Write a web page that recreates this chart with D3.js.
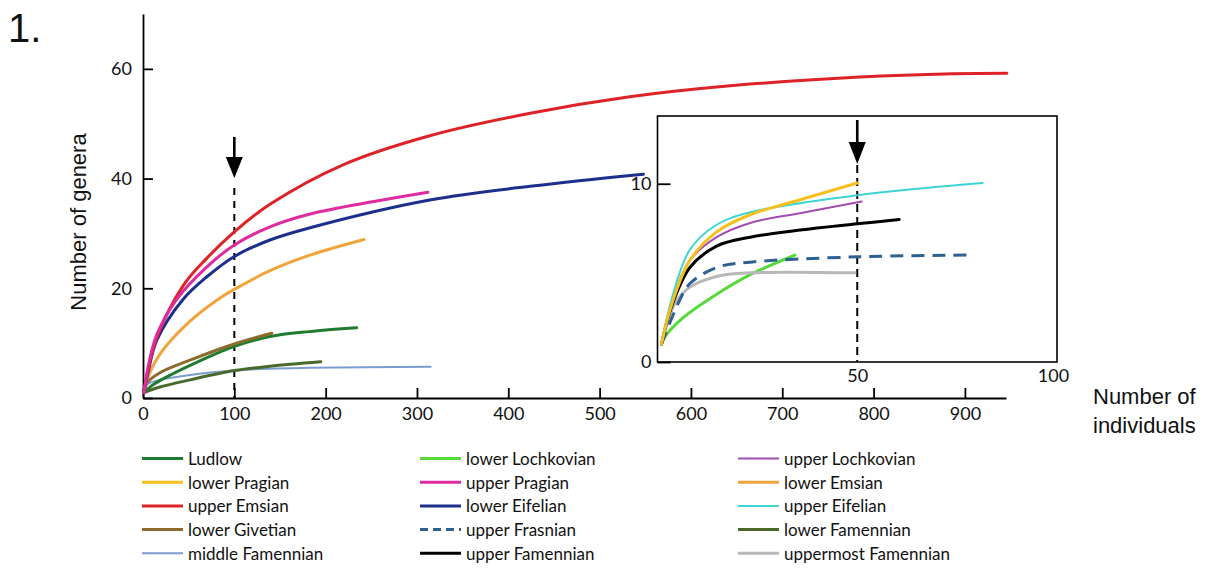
<!DOCTYPE html>
<html>
<head>
<meta charset="utf-8">
<script src="https://cdn.jsdelivr.net/npm/d3@7"></script>
<style>
  html, body { margin: 0; padding: 0; background: #fff; }
  svg { display: block; }
</style>
</head>
<body>
<svg id="chart" width="1209" height="570"></svg>
<script>
// ---------------- DATA ----------------
// Main panel: [number of individuals, number of genera]
const ludlow          = [[1,1],[10,2.3],[30,4.2],[60,6.6],[100,9.4],[139,11.2],[182,12.1],[234,12.8]];
const upperPragian    = [[1,1],[6,6],[15,11.5],[36.5,17.9],[70,23.9],[100,27.9],[139,31.2],[182,33.5],[256,35.9],[312,37.5]];
const lowerEmsian     = [[1,1],[5,3.6],[18.6,8],[51.5,14],[84,18.2],[100,19.8],[139,23.2],[182,26],[242,28.9]];
const upperEmsian     = [[1,1],[6,5.5],[15,11],[44,20.5],[70,25.5],[100,30.3],[139,35.3],[219,42.5],[314,47.8],[424,51.9],[533,54.9],[643,56.9],[785,58.5],[887,59.1],[946,59.2]];
const lowerEifelian   = [[1,1],[6,5],[15,10.5],[44,18],[70,22.1],[100,25.8],[139,28.8],[182,31],[314,36.1],[424,38.6],[548,40.8]];
const lowerGivetian   = [[1,1],[4,2.7],[18.6,4.6],[51.5,6.9],[100,9.85],[141,11.8]];
const lowerFamennian  = [[1,1],[18.6,2.0],[51.5,3.3],[100,5.0],[139,5.8],[194.6,6.6]];
const middleFamennian = [[1,1],[5,2.5],[18.6,3.3],[51.5,4.2],[100,5.0],[139,5.35],[182,5.5],[315,5.7]];

// Inset panel (0-100 individuals)
const lowerLochkovian     = [[1,1],[1.8,1.4],[6.5,2.5],[14.8,3.8],[23.2,4.9],[34.4,6.0]];
const upperLochkovian     = [[1,1],[3.5,3.3],[8.1,5.7],[14.8,7.0],[23.2,7.8],[35.7,8.35],[51.1,9.0]];
const lowerPragian        = [[1,1],[3.5,3.2],[8.1,5.7],[14.8,7.3],[23.2,8.26],[35.7,9.1],[50,10.04]];
const upperEifelian       = [[1,1],[3.5,3.5],[8.1,6.3],[14.8,7.7],[23.2,8.4],[50,9.35],[66.5,9.75],[81.4,10.04]];
const upperFrasnian       = [[1,1],[5.2,3.3],[8.1,4.4],[14.8,5.3],[23.2,5.6],[50,5.9],[78.9,6.0]];
const upperFamennian      = [[1,1],[3.5,3.1],[8.1,5.3],[14.8,6.5],[23.2,7.0],[35.7,7.4],[50,7.75],[60.5,8.0]];
const uppermostFamennian  = [[1,1],[4.4,3.3],[8.1,4.2],[14.8,4.8],[23.2,5.0],[49.4,5.0]];

const mainTicksX  = [0,100,200,300,400,500,600,700,800,900];
const mainTicksY  = [0,20,40,60];
const insetTicksX = [50,100];
const insetTicksY = [0,10];
const mainMarker  = 100;   // dashed reference line (main)
const insetMarker = 50;    // dashed reference line (inset)

const legendNames = [
  "Ludlow","lower Lochkovian","upper Lochkovian",
  "lower Pragian","upper Pragian","lower Emsian",
  "upper Emsian","lower Eifelian","upper Eifelian",
  "lower Givetian","upper Frasnian","lower Famennian",
  "middle Famennian","upper Famennian","uppermost Famennian"
];

const mainSeries = [
  ["middle Famennian", middleFamennian],
  ["lower Famennian", lowerFamennian],
  ["Ludlow", ludlow],
  ["lower Givetian", lowerGivetian],
  ["lower Emsian", lowerEmsian],
  ["lower Eifelian", lowerEifelian],
  ["upper Emsian", upperEmsian],
  ["upper Pragian", upperPragian]
];
const insetSeries = [
  ["lower Lochkovian", lowerLochkovian],
  ["uppermost Famennian", uppermostFamennian],
  ["upper Frasnian", upperFrasnian],
  ["upper Famennian", upperFamennian],
  ["upper Lochkovian", upperLochkovian],
  ["upper Eifelian", upperEifelian],
  ["lower Pragian", lowerPragian]
];

// ---------------- STYLES ----------------
const styles = {
  "Ludlow":              {c:"#1e7b2f", w:3},
  "lower Lochkovian":    {c:"#57d93c", w:3},
  "upper Lochkovian":    {c:"#a24cb2", w:2},
  "lower Pragian":       {c:"#f5c01c", w:3},
  "upper Pragian":       {c:"#e02a9f", w:3},
  "lower Emsian":        {c:"#f0a43c", w:3},
  "upper Emsian":        {c:"#dd2327", w:3},
  "lower Eifelian":      {c:"#1d2f8c", w:3},
  "upper Eifelian":      {c:"#3fd4d4", w:2},
  "lower Givetian":      {c:"#8b6c2c", w:3},
  "upper Frasnian":      {c:"#2d6190", w:3, dash:"13,8", legendDash:"8,5"},
  "lower Famennian":     {c:"#4a6a2c", w:3},
  "middle Famennian":    {c:"#7b9ccf", w:2},
  "upper Famennian":     {c:"#000000", w:3},
  "uppermost Famennian": {c:"#b8b8b8", w:3}
};

const svg = d3.select("#chart");
const tickFont = "Lato, 'Open Sans', sans-serif";
const titleFont = "'Liberation Sans', Arial, sans-serif";
const smooth = d3.curveCatmullRom.alpha(0.5);

// ---------------- MAIN PANEL ----------------
const x = d3.scaleLinear().domain([0, 945]).range([143, 1006]);
const y = d3.scaleLinear().domain([0, 70]).range([398, 14]);

const line = d3.line().x(d => x(d[0])).y(d => y(d[1])).curve(smooth);

function styleAxis(g) {
  g.select(".domain").attr("stroke", "#000").attr("stroke-width", 1.8);
  g.selectAll(".tick line").attr("stroke", "#000").attr("stroke-width", 1.8);
  g.selectAll(".tick text").attr("font-family", tickFont).attr("font-size", 18).attr("fill", "#111");
}

svg.append("g")
  .attr("transform", `translate(0,${y(0)})`)
  .call(d3.axisBottom(x).tickValues(mainTicksX).tickSizeInner(-10).tickSizeOuter(0).tickPadding(9).tickFormat(d3.format("d")))
  .call(styleAxis);

svg.append("g")
  .attr("transform", `translate(${x(0)},0)`)
  .call(d3.axisLeft(y).tickValues(mainTicksY).tickSizeInner(-10).tickSizeOuter(0).tickPadding(11).tickFormat(d3.format("d")))
  .call(styleAxis);

// dashed reference line + arrow (main)
svg.append("line")
  .attr("x1", x(mainMarker)).attr("x2", x(mainMarker))
  .attr("y1", 188).attr("y2", y(0))
  .attr("stroke", "#000").attr("stroke-width", 2).attr("stroke-dasharray", "7,6");
svg.append("line")
  .attr("x1", x(mainMarker)).attr("x2", x(mainMarker))
  .attr("y1", 137).attr("y2", 162)
  .attr("stroke", "#000").attr("stroke-width", 2.6);
svg.append("path")
  .attr("d", `M${x(mainMarker)-8.5},157 L${x(mainMarker)+8.5},157 L${x(mainMarker)},178 Z`)
  .attr("fill", "#000");

svg.append("g").selectAll("path")
  .data(mainSeries)
  .join("path")
  .attr("d", d => line(d[1]))
  .attr("fill", "none")
  .attr("stroke", d => styles[d[0]].c)
  .attr("stroke-width", d => styles[d[0]].w)
  .attr("stroke-linecap", "round");

// ---------------- INSET ----------------
const xi = d3.scaleLinear().domain([0, 100]).range([657.5, 1057]);
const yi = d3.scaleLinear().domain([0, 13.8]).range([362, 116]);
const lineI = d3.line().x(d => xi(d[0])).y(d => yi(d[1])).curve(smooth);

svg.append("rect")
  .attr("x", xi(0)).attr("y", yi(13.8))
  .attr("width", xi(100) - xi(0)).attr("height", yi(0) - yi(13.8))
  .attr("fill", "#fff").attr("stroke", "#000").attr("stroke-width", 1.6);

const gyi = svg.append("g")
  .attr("transform", `translate(${xi(0)},0)`)
  .call(d3.axisLeft(yi).tickValues(insetTicksY).tickSizeInner(-13).tickSizeOuter(0).tickPadding(6).tickFormat(d3.format("d")))
  .call(styleAxis);
gyi.select(".domain").remove();

const gxi = svg.append("g")
  .attr("transform", `translate(0,${yi(0)})`)
  .call(d3.axisBottom(xi).tickValues(insetTicksX).tickSizeInner(0).tickSizeOuter(0).tickPadding(7).tickFormat(d3.format("d")))
  .call(styleAxis);
gxi.select(".domain").remove();
gxi.selectAll(".tick text").filter(d => d === 100).attr("dx", -4);

svg.append("line")
  .attr("x1", xi(insetMarker)).attr("x2", xi(insetMarker))
  .attr("y1", 165).attr("y2", yi(0))
  .attr("stroke", "#000").attr("stroke-width", 2).attr("stroke-dasharray", "8,5");
svg.append("line")
  .attr("x1", xi(insetMarker)).attr("x2", xi(insetMarker))
  .attr("y1", 120).attr("y2", 147)
  .attr("stroke", "#000").attr("stroke-width", 2.6);
svg.append("path")
  .attr("d", `M${xi(insetMarker)-8.5},142 L${xi(insetMarker)+8.5},142 L${xi(insetMarker)},164 Z`)
  .attr("fill", "#000");

svg.append("g").selectAll("path")
  .data(insetSeries)
  .join("path")
  .attr("d", d => lineI(d[1]))
  .attr("fill", "none")
  .attr("stroke", d => styles[d[0]].c)
  .attr("stroke-width", d => styles[d[0]].w)
  .attr("stroke-dasharray", d => styles[d[0]].dash || null)
  .attr("stroke-linecap", d => styles[d[0]].dash ? "butt" : "round");

// ---------------- TITLES ----------------
svg.append("text")
  .attr("x", 8).attr("y", 42)
  .attr("font-family", titleFont).attr("font-size", 40).attr("fill", "#111")
  .text("1.");

svg.append("text")
  .attr("transform", "translate(86,222) rotate(-90)")
  .attr("text-anchor", "middle")
  .attr("font-family", titleFont).attr("font-size", 22).attr("fill", "#111")
  .text("Number of genera");

const xt = svg.append("text")
  .attr("font-family", titleFont).attr("font-size", 22).attr("fill", "#111");
xt.append("tspan").attr("x", 1093).attr("y", 404).text("Number of");
xt.append("tspan").attr("x", 1093).attr("y", 433).text("individuals");

// ---------------- LEGEND ----------------
const colLineX = [142, 420, 738];
const legendRow0 = 458.5, legendStep = 23.7, legendLineLen = 41, legendGap = 5;

const leg = svg.append("g").selectAll("g")
  .data(legendNames)
  .join("g")
  .attr("transform", (d, i) => `translate(${colLineX[i % 3]},${legendRow0 + Math.floor(i / 3) * legendStep})`);

leg.append("line")
  .attr("x1", 0).attr("x2", legendLineLen).attr("y1", 0).attr("y2", 0)
  .attr("stroke", d => styles[d].c)
  .attr("stroke-width", d => styles[d].w)
  .attr("stroke-dasharray", d => styles[d].legendDash || null);

leg.append("text")
  .attr("x", legendLineLen + legendGap).attr("y", 0).attr("dy", "0.38em")
  .attr("font-family", tickFont).attr("font-size", 17).attr("fill", "#111")
  .text(d => d);
</script>
</body>
</html>
